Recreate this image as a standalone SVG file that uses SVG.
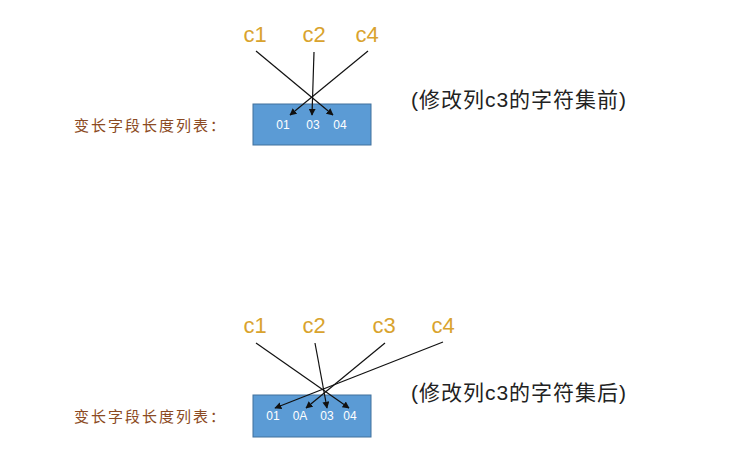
<svg xmlns="http://www.w3.org/2000/svg" width="747" height="465" viewBox="0 0 747 465">
<style>
.col{font-family:"Liberation Sans","Noto Sans CJK SC",sans-serif;font-size:22px;fill:#d9a32e;text-anchor:middle}
.box{fill:#5b9bd5;stroke:#41719c;stroke-width:1}
.val{font-family:"Liberation Sans",sans-serif;font-size:12px;fill:#ffffff;text-anchor:middle}
.lbl{font-family:"Liberation Sans","Noto Sans CJK SC",sans-serif;font-size:15px;letter-spacing:2px;fill:#8b4a22}
.note{font-family:"Liberation Sans","Noto Sans CJK SC",sans-serif;font-size:21px;fill:#222222}
.ln{stroke:#111111;stroke-width:1.2;fill:none;marker-end:url(#ah)}
</style>
<defs>
<marker id="ah" viewBox="0 0 10 10" refX="9" refY="5" markerWidth="7" markerHeight="7" orient="auto" markerUnits="userSpaceOnUse">
<path d="M0,0 L10,5 L0,10 z" fill="#111111"/>
</marker>
</defs>
<rect width="747" height="465" fill="#ffffff"/>
<g id="top-cols">
<text class="col" x="255" y="42">c1</text>
<text class="col" x="314" y="42">c2</text>
<text class="col" x="367" y="42">c4</text>
</g>
<g id="top-box">
<rect class="box" x="253" y="104" width="118" height="41"/>
<text class="val" x="283" y="129">01</text>
<text class="val" x="313" y="129">03</text>
<text class="val" x="340" y="129">04</text>
</g>
<g id="top-label"><text class="lbl" x="74" y="131">变长字段长度列表：</text></g>
<g id="top-note"><text class="note" x="411" y="107" textLength="215" lengthAdjust="spacing">(修改列c3的字符集前)</text></g>
<g id="bottom-cols">
<text class="col" x="255" y="333">c1</text>
<text class="col" x="314" y="333">c2</text>
<text class="col" x="384" y="333">c3</text>
<text class="col" x="443" y="333">c4</text>
</g>
<g id="bottom-box">
<rect class="box" x="253" y="395" width="118" height="42"/>
<text class="val" x="273" y="420">01</text>
<text class="val" x="300" y="420">0A</text>
<text class="val" x="327" y="420">03</text>
<text class="val" x="350" y="420">04</text>
</g>
<g id="bottom-label"><text class="lbl" x="74" y="422">变长字段长度列表：</text></g>
<g id="bottom-note"><text class="note" x="411" y="400" textLength="215" lengthAdjust="spacing">(修改列c3的字符集后)</text></g>
<g id="connectors">
<line class="ln" x1="256" y1="51" x2="333" y2="115"/>
<line class="ln" x1="314" y1="52" x2="312" y2="115"/>
<line class="ln" x1="368" y1="51" x2="290" y2="115"/>
<line class="ln" x1="256" y1="343" x2="349" y2="408"/>
<line class="ln" x1="315" y1="343" x2="327" y2="408"/>
<line class="ln" x1="385" y1="343" x2="306" y2="408"/>
<line class="ln" x1="443" y1="342" x2="275" y2="408"/>
</g>
</svg>
